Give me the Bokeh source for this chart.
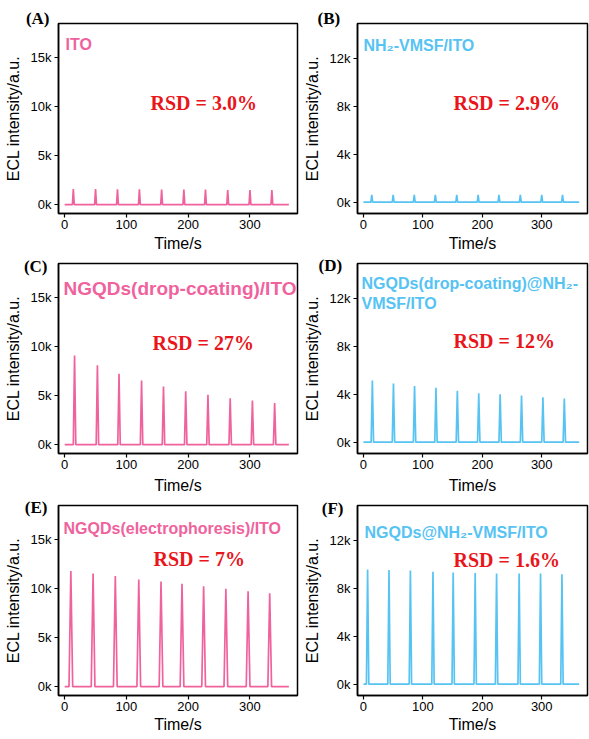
from bokeh.plotting import figure
from bokeh.layouts import gridplot
from bokeh.models import Label, FixedTicker, CustomJSTickFormatter, ColumnDataSource
from bokeh.embed import file_html
from bokeh.resources import INLINE

# ---------------- data ----------------
x_ticks = [0, 100, 200, 300]
y_ticks_pink = [0, 5000, 10000, 15000]
y_ticks_blue = [0, 4000, 8000, 12000]
t_end = 363

# (A) ITO
times_a = [14, 50, 85.5, 121, 157, 193, 228, 264, 300, 335.5]
heights_a = [1600, 1600, 1580, 1560, 1550, 1550, 1540, 1500, 1500, 1500]
# (B) NH2-VMSF/ITO
times_b = [14, 50, 85.5, 121, 157, 193, 228, 264, 300, 335]
heights_b = [620, 610, 610, 600, 600, 600, 600, 600, 600, 600]
# (C) NGQDs(drop-coating)/ITO
times_c = [16, 53, 88, 124.5, 160, 196, 232, 268, 304, 340]
heights_c = [9100, 8100, 7250, 6550, 5950, 5450, 5100, 4750, 4500, 4250]
# (D) NGQDs(drop-coating)@NH2-VMSF/ITO
times_d = [15, 50.5, 86, 122, 158, 194, 230, 266, 302, 338]
heights_d = [5150, 4900, 4700, 4550, 4300, 4100, 4000, 3900, 3750, 3650]
# (E) NGQDs(electrophoresis)/ITO
times_e = [10, 46, 82, 120, 156, 190, 225, 261, 297, 332]
heights_e = [11800, 11550, 11300, 10950, 10750, 10500, 10250, 10000, 9750, 9550]
# (F) NGQDs@NH2-VMSF/ITO
times_f = [7, 43, 79, 117, 151, 188, 224, 262, 298, 334]
heights_f = [9600, 9550, 9500, 9400, 9350, 9300, 9250, 9250, 9250, 9200]

names = {
    "A": ["ITO"],
    "B": ["NH\u2082-VMSF/ITO"],
    "C": ["NGQDs(drop-coating)/ITO"],
    "D": ["NGQDs(drop-coating)@NH\u2082-", "VMSF/ITO"],
    "E": ["NGQDs(electrophoresis)/ITO"],
    "F": ["NGQDs@NH\u2082-VMSF/ITO"],
}
rsd_texts = {"A": "RSD = 3.0%", "B": "RSD = 2.9%", "C": "RSD = 27%",
             "D": "RSD = 12%", "E": "RSD = 7%", "F": "RSD = 1.6%"}

PINK = "#F0629D"
BLUE = "#56C3F3"
RED = "#E8161B"
SANS = "Liberation Sans"
SERIF = "Liberation Serif"


def trace(times, heights, hw):
    xs, ys = [0], [0]
    for t, h in zip(times, heights):
        xs += [t - hw, t, t + hw]
        ys += [0, h, 0]
    xs.append(t_end)
    ys.append(0)
    return xs, ys


def panel(letter, times, heights, hw, color, yticks, yrange,
          W, H, bl, br, bt, bb, name_size, name_xy, rsd_xy,
          letter_off, letter_standoff, xlab_standoff):
    p = figure(width=W, height=H, x_range=(-10, 377), y_range=yrange,
               output_backend="svg", toolbar_location=None,
               min_border_left=bl, min_border_right=br,
               min_border_top=bt, min_border_bottom=bb)
    p.xgrid.visible = False
    p.ygrid.visible = False
    p.outline_line_color = "black"
    p.outline_line_width = 1.5
    p.outline_line_alpha = 1.0
    p.background_fill_color = "white"
    p.border_fill_color = "white"

    # panel letter as the figure title, pulled down to the frame's top edge
    p.title.text = "(" + letter + ")"
    p.title.align = "left"
    p.title.offset = letter_off
    p.title.vertical_align = "bottom"
    p.title.standoff = letter_standoff
    p.title.text_font = SERIF
    p.title.text_font_size = "17px"
    p.title.text_font_style = "bold"
    p.title.text_color = "black"

    p.xaxis.ticker = FixedTicker(ticks=x_ticks)
    p.yaxis.ticker = FixedTicker(ticks=yticks)
    p.yaxis.formatter = CustomJSTickFormatter(code="return (tick/1000).toFixed(0) + 'k';")
    for ax in (p.xaxis[0], p.yaxis[0]):
        ax.axis_line_color = "black"
        ax.axis_line_width = 1.5
        ax.major_tick_line_color = "black"
        ax.major_tick_line_width = 1.2
        ax.major_tick_out = 4
        ax.major_tick_in = 0
        ax.minor_tick_line_color = None
        ax.major_label_text_font = SANS
        ax.major_label_text_font_size = "13px"
        ax.major_label_text_color = "black"
        ax.major_label_standoff = 2
        ax.axis_label_text_font = SANS
        ax.axis_label_text_font_size = "16px"
        ax.axis_label_text_font_style = "normal"
        ax.axis_label_text_color = "black"
    p.xaxis.axis_label = "Time/s"
    p.yaxis.axis_label = "ECL intensity/a.u."
    p.xaxis.axis_label_standoff = xlab_standoff
    p.yaxis.axis_label_standoff = 6
    p.yaxis.major_label_standoff = 3

    xs, ys = trace(times, heights, hw)
    src = ColumnDataSource(dict(x=xs, y=ys))
    p.line("x", "y", source=src, line_color=color, line_width=1.7)

    lines = names[letter]
    for i, txt in enumerate(lines):
        p.add_layout(Label(x=name_xy[0], y=name_xy[1] - 20 * i,
                           x_units="screen", y_units="screen", text=txt,
                           text_color=color, text_font=SANS,
                           text_font_size=name_size, text_font_style="bold",
                           text_baseline="alphabetic"))
    p.add_layout(Label(x=rsd_xy[0], y=rsd_xy[1], x_units="screen", y_units="screen",
                       text=rsd_texts[letter], text_color=RED, text_font=SERIF,
                       text_font_size="20px", text_font_style="bold",
                       text_baseline="alphabetic"))
    return p


yr_pink = (-900, 18500)
yr_blue = (-950, 14950)

pa = panel("A", times_a, heights_a, 1.5, PINK, y_ticks_pink, yr_pink,
           300, 255, 58, 3, 23, 42, "16px", (7, 169.5), (92, 111), -32.6, -8, 3)
pb = panel("B", times_b, heights_b, 1.5, BLUE, y_ticks_blue, yr_blue,
           289, 255, 51, 2, 23, 42, "16px", (6, 167.7), (96, 111), -40.0, -8, 3)
pc = panel("C", times_c, heights_c, 2.0, PINK, y_ticks_pink, yr_pink,
           300, 242, 58, 3, 8, 44, "19px", (5, 165), (94, 111), -34.6, -24, 5)
pd = panel("D", times_d, heights_d, 2.0, BLUE, y_ticks_blue, yr_blue,
           289, 242, 51, 2, 8, 44, "16px", (4, 169.7), (96, 113), -39.0, -22, 5)
pe = panel("E", times_e, heights_e, 3.0, PINK, y_ticks_pink, yr_pink,
           300, 242, 58, 3, 8, 44, "16px", (5, 167), (95, 136.7), -33.7, -23, 2)
pf = panel("F", times_f, heights_f, 2.0, BLUE, y_ticks_blue, yr_blue,
           289, 242, 51, 2, 8, 44, "16px", (7, 163), (96, 136), -35.7, -24, 2)

grid = gridplot([[pa, pb], [pc, pd], [pe, pf]], toolbar_location=None)

open("out.html", "w").write(file_html(grid, INLINE))
